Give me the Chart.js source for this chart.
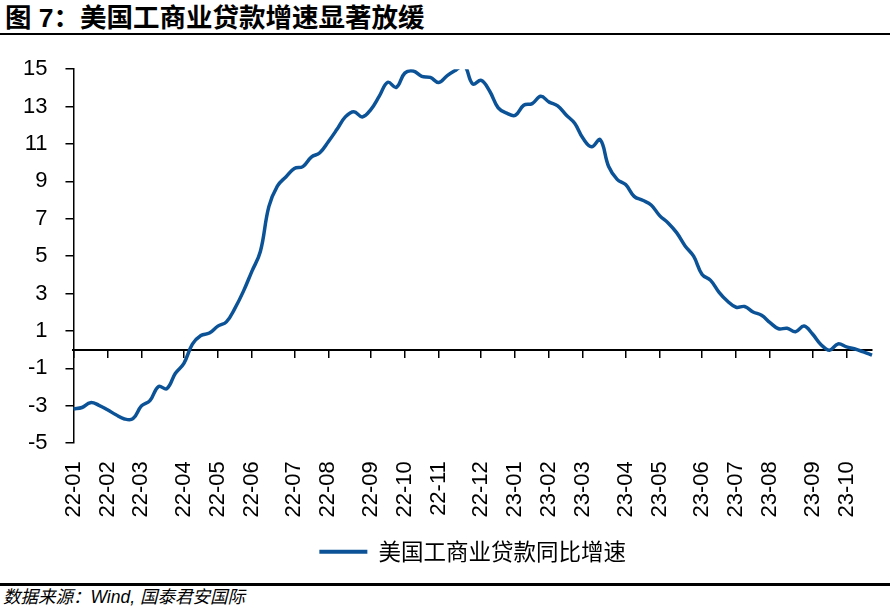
<!DOCTYPE html>
<html>
<head>
<meta charset="utf-8">
<script src="https://cdn.jsdelivr.net/npm/chart.js@4.4.0/dist/chart.umd.min.js"></script>
<style>
  html, body { margin: 0; padding: 0; background: #fff; }
  #page { position: relative; width: 890px; height: 610px; overflow: hidden; }
  #title {
    position: absolute; left: 0; top: 0; width: 890px; height: 35px;
    border-bottom: 2px solid #000;
    font: bold 26.5px "Liberation Sans", "Noto Sans CJK SC", sans-serif;
    line-height: 36px; padding-left: 5px; box-sizing: border-box; color: #000;
  }
  #box { position: absolute; left: 0; top: 38px; width: 890px; height: 545px; }
  #source {
    position: absolute; left: 0; top: 583px; width: 890px; height: 27px;
    border-top: 3px solid #000; box-sizing: border-box;
    font: italic 17.5px "Liberation Sans", "Noto Sans CJK SC", sans-serif;
    line-height: 22px; padding-left: 3px; color: #000;
  }
</style>
</head>
<body>
<div id="page">
  <div id="title">图 7：美国工商业贷款增速显著放缓</div>
  <div id="box"><canvas id="loanChart"></canvas></div>
  <div id="source">数据来源：Wind, 国泰君安国际</div>
</div>
<script>
// 周度数据，起始 2022-01-05
const startDate = [2022, 0, 5];
const seriesName = '美国工商业贷款同比增速';
const loanGrowth = [
  -3.17, -3.09, -2.83, -2.97, -3.21, -3.48, -3.7, -3.69, -3.0, -2.72,
  -1.97, -2.08, -1.26, -0.73, 0.3, 0.76, 0.89, 1.26, 1.49, 2.21,
  3.12, 4.19, 5.25, 7.65, 8.75, 9.24, 9.69, 9.79, 10.3, 10.53,
  11.12, 11.77, 12.45, 12.73, 12.45, 12.84, 13.56, 14.3, 14.03, 14.79,
  14.9, 14.62, 14.56, 14.29, 14.66, 14.95, 15.2, 14.21, 14.4, 13.82,
  12.93, 12.65, 12.53, 13.07, 13.16, 13.55, 13.24, 13.04, 12.55, 12.11,
  11.29, 10.85, 11.23, 9.8, 9.11, 8.83, 8.2, 7.99, 7.74, 7.17,
  6.78, 6.26, 5.55, 5.0, 4.02, 3.71, 3.07, 2.59, 2.27, 2.31,
  2.02, 1.84, 1.45, 1.12, 1.15, 0.96, 1.27, 0.84, 0.27, -0.03,
  0.31, 0.15, 0.04, -0.12, -0.29
];
const yTicks = { min: -5, max: 15, step: 2 };

// 日期标签
const dates = loanGrowth.map((v, i) => {
  const d = new Date(Date.UTC(startDate[0], startDate[1], startDate[2] + 7 * i));
  return d.toISOString().slice(0, 10);
});
// 每月第一周
const monthStart = dates.map((d, i) => i === 0 || d.slice(5, 7) !== dates[i - 1].slice(5, 7));
const monthLabel = i => monthStart[i] ? dates[i].slice(2, 7) : null;

const lineColor = '#0b5396';
const tickFont = { family: '"Liberation Sans", Arial, sans-serif', size: 22 };

const ctx = document.getElementById('loanChart').getContext('2d');
const chart = new Chart(ctx, {
  type: 'line',
  data: {
    labels: dates,
    datasets: [{
      label: seriesName,
      data: loanGrowth,
      borderColor: lineColor,
      backgroundColor: lineColor,
      borderWidth: 3.5,
      pointRadius: 0,
      tension: 0.4,
      fill: false
    }]
  },
  options: {
    responsive: true,
    maintainAspectRatio: false,
    animation: false,
    layout: { padding: { left: 5, right: 18, top: 17.5, bottom: 10 } },
    scales: {
      x: {
        type: 'category',
        position: 'bottom',
        grid: { display: false, drawTicks: false },
        border: { display: false },
        ticks: {
          autoSkip: false,
          maxRotation: 90,
          minRotation: 90,
          padding: 18,
          color: '#000',
          font: tickFont,
          callback: (val, i) => monthLabel(i)
        },
        afterFit: s => { s.height -= 5; s.paddingRight = 0; }
      },
      x2: {
        type: 'category',
        position: { y: 0 },
        labels: dates,
        grid: {
          drawOnChartArea: false,
          drawTicks: true,
          tickLength: 7,
          lineWidth: 1.5,
          color: c => monthStart[c.index] ? '#000' : 'rgba(0,0,0,0)'
        },
        border: { display: true, color: '#000', width: 2 },
        ticks: { display: false, autoSkip: false }
      },
      y: {
        min: yTicks.min,
        max: yTicks.max,
        grid: { drawOnChartArea: false, drawTicks: true, tickLength: 8, color: '#000', lineWidth: 1.5 },
        border: { display: true, color: '#000', width: 1.5 },
        ticks: { stepSize: yTicks.step, padding: 18, color: '#000', font: tickFont }
      }
    },
    plugins: {
      legend: {
        display: true,
        position: 'bottom',
        fullSize: false,
        labels: {
          boxWidth: 48,
          boxHeight: 4,
          padding: 10,
          color: '#000',
          font: { family: '"Noto Sans CJK SC", sans-serif', size: 22.5 },
          generateLabels: ch => Chart.defaults.plugins.legend.labels.generateLabels(ch)
            .map(l => ({ ...l, lineWidth: 0, fillStyle: lineColor }))
        }
      },
      tooltip: { enabled: false }
    }
  }
});
</script>
</body>
</html>
